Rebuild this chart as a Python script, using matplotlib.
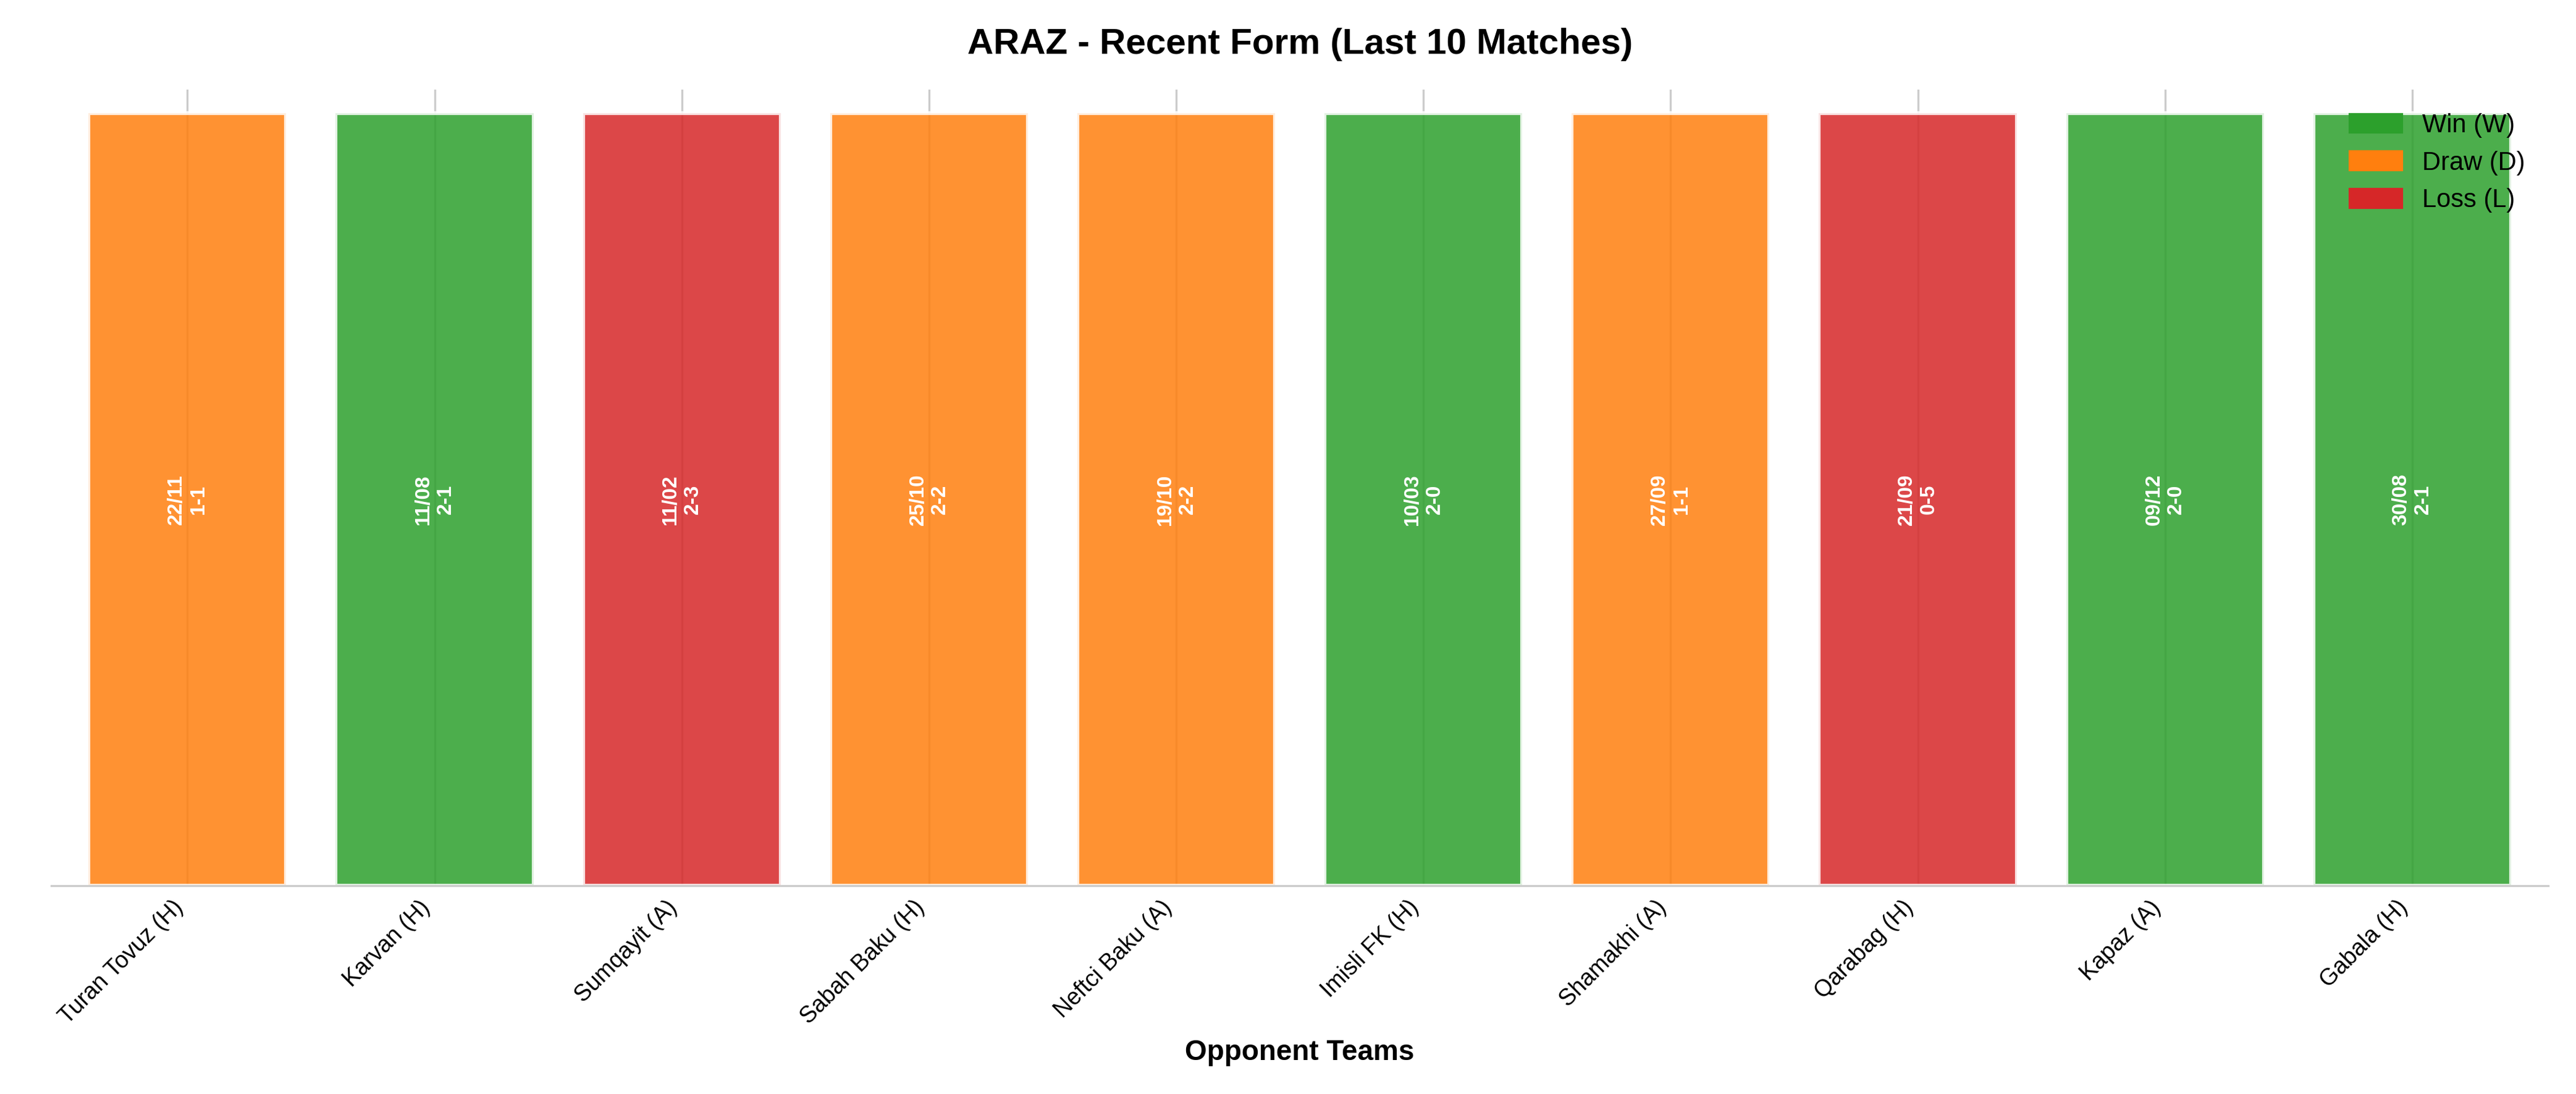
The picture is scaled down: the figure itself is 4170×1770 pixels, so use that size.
import matplotlib
matplotlib.use("Agg")
import matplotlib.pyplot as plt
from matplotlib.patches import Patch

opponents = ["Turan Tovuz (H)", "Karvan (H)", "Sumqayit (A)", "Sabah Baku (H)", "Neftci Baku (A)",
             "Imisli FK (H)", "Shamakhi (A)", "Qarabag (H)", "Kapaz (A)", "Gabala (H)"]
results = ["D", "W", "L", "D", "D", "W", "D", "L", "W", "W"]
dates = ["22/11", "11/08", "11/02", "25/10", "19/10", "10/03", "27/09", "21/09", "09/12", "30/08"]
scores = ["1-1", "2-1", "2-3", "2-2", "2-2", "2-0", "1-1", "0-5", "2-0", "2-1"]

colors = {"W": "#2ca02c", "D": "#ff7f0e", "L": "#d62728"}
plt.rcParams['font.family'] = ['Liberation Sans', 'DejaVu Sans']

fig, ax = plt.subplots(figsize=(13.9, 5.9), dpi=300)
x = list(range(len(opponents)))
for xi in x:
    ax.axvline(xi, color="#cccccc", lw=0.8, zorder=0)
ax.bar(x, [1]*len(x), color=[colors[r] for r in results], alpha=0.85,
       edgecolor="white", linewidth=1.5, width=0.8, zorder=2)
for xi, d, s in zip(x, dates, scores):
    ax.text(xi, 0.5, f"{d}\n{s}", rotation=90, ha="center", va="center",
            color="white", fontsize=8, fontweight="bold", zorder=3)
ax.set_xticks(x)
ax.set_xticklabels(opponents, rotation=45, ha="right", fontsize=9)
ax.set_yticks([])
ax.set_ylim(0, 1.03)
ax.set_xlim(-0.55, 9.55)
for s in ["top", "right", "left"]:
    ax.spines[s].set_visible(False)
ax.spines["bottom"].set_color("#cccccc")
ax.tick_params(axis="x", length=0, pad=4)
ax.set_xlabel("Opponent Teams", fontsize=11, fontweight="bold")
ax.set_title("ARAZ - Recent Form (Last 10 Matches)", fontsize=14, fontweight="bold", pad=14)
handles = [Patch(color=colors[k]) for k in ["W", "D", "L"]]
ax.legend(handles, ["Win (W)", "Draw (D)", "Loss (L)"], loc="upper right", frameon=False, fontsize=10)
fig.tight_layout()
fig.savefig("out.png", dpi=300)
